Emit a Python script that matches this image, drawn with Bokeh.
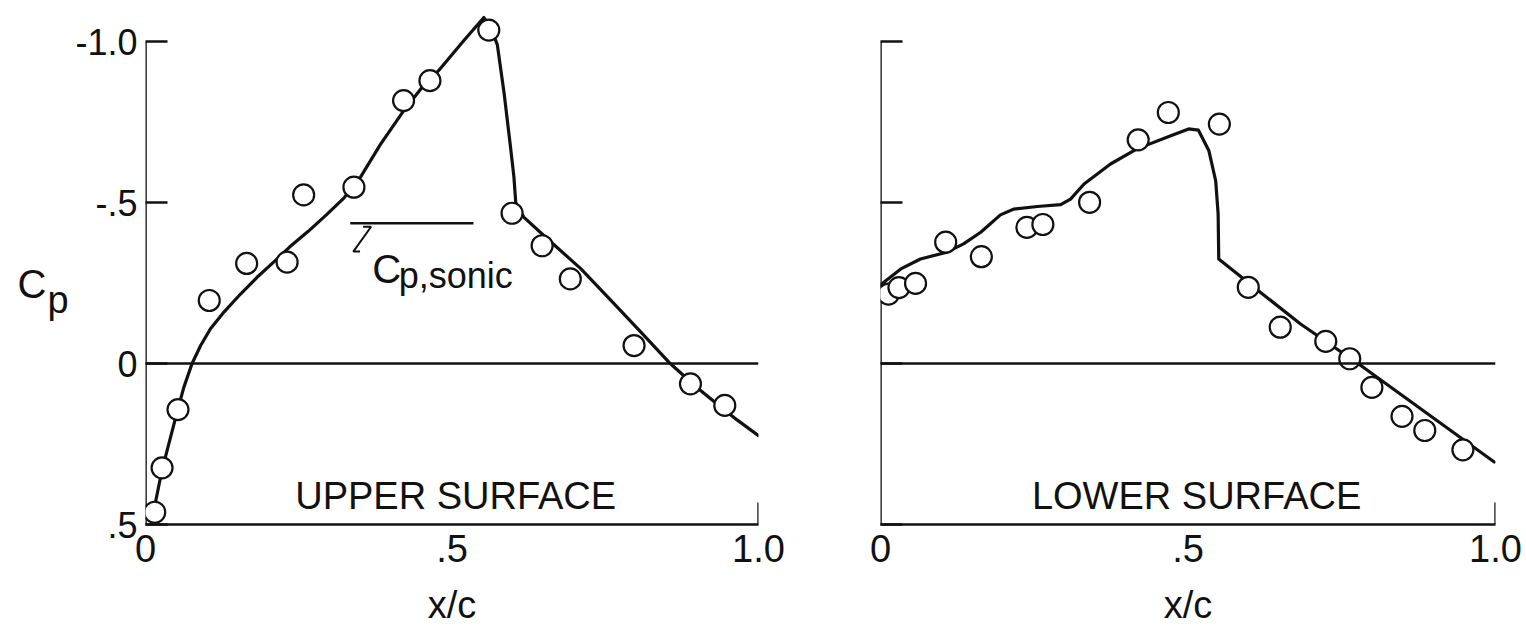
from bokeh.plotting import figure
from bokeh.layouts import row
from bokeh.models import Range1d, FixedTicker, Span
from bokeh.embed import file_html
from bokeh.resources import INLINE
from bokeh.core.properties import value

# ---------------- data ----------------
UPPER_CURVE_X = [0.010, 0.027, 0.053, 0.0625, 0.076, 0.090, 0.106, 0.128, 0.155, 0.182,
                 0.209, 0.235, 0.265, 0.295, 0.324, 0.351, 0.383, 0.421, 0.450, 0.478,
                 0.519, 0.552, 0.565, 0.574, 0.585, 0.595, 0.601, 0.604, 0.617, 0.660,
                 0.710, 0.760, 0.807, 0.856, 0.900, 0.932, 0.965, 1.000]
UPPER_CURVE_CP = [0.49, 0.33, 0.14, 0.074, 0.000, -0.056, -0.108, -0.160, -0.216, -0.268,
                  -0.315, -0.362, -0.410, -0.462, -0.515, -0.580, -0.680, -0.785, -0.855, -0.910,
                  -1.003, -1.075, -1.035, -0.990, -0.840, -0.680, -0.580, -0.500, -0.455, -0.380,
                  -0.295, -0.195, -0.100, 0.000, 0.075, 0.125, 0.175, 0.224]
UPPER_PTS_X = [0.015, 0.027, 0.053, 0.104, 0.165, 0.231, 0.258, 0.340, 0.421, 0.464,
               0.560, 0.598, 0.647, 0.693, 0.797, 0.889, 0.945]
UPPER_PTS_CP = [0.462, 0.324, 0.143, -0.196, -0.311, -0.315, -0.524, -0.548, -0.817, -0.879,
                -1.036, -0.467, -0.366, -0.263, -0.056, 0.063, 0.130]

LOWER_CURVE_X = [0.000, 0.005, 0.033, 0.065, 0.108, 0.135, 0.163, 0.195, 0.217, 0.255,
                 0.293, 0.309, 0.331, 0.374, 0.417, 0.472, 0.501, 0.517, 0.534, 0.545,
                 0.549, 0.550, 0.580, 0.618, 0.683, 0.781, 0.998]
LOWER_CURVE_CP = [-0.245, -0.252, -0.294, -0.325, -0.346, -0.372, -0.408, -0.462, -0.480, -0.488,
                  -0.494, -0.511, -0.558, -0.620, -0.667, -0.708, -0.729, -0.725, -0.661, -0.568,
                  -0.465, -0.325, -0.279, -0.221, -0.123, 0.006, 0.306]
LOWER_PTS_X = [0.013, 0.030, 0.057, 0.106, 0.164, 0.238, 0.264, 0.340, 0.419, 0.468,
               0.551, 0.598, 0.650, 0.724, 0.763, 0.799, 0.848, 0.885, 0.947]
LOWER_PTS_CP = [-0.216, -0.236, -0.249, -0.377, -0.332, -0.423, -0.432, -0.501, -0.695, -0.780,
                -0.744, -0.237, -0.113, -0.069, -0.015, 0.074, 0.164, 0.208, 0.268]

X_TICKS = [0.0, 0.5, 1.0]
X_TICK_LABELS = ["0", ".5", "1.0"]
Y_TICKS = [-1.0, -0.5, 0.0, 0.5]
Y_TICK_LABELS = ["-1.0", "-.5", "0", ".5"]

CP_SONIC = -0.436
SONIC_LINE_X = [0.334, 0.535]

FONT = "Liberation Sans"
INK = "#111111"

Y_RANGE = Range1d(Y_TICKS[-1], -1.10)
FRAME_H = 515
BORDER_TOP = 9
BORDER_BOTTOM = 104


def make_panel(curve_x, curve_cp, pts_x, pts_cp, label_text, label_x, frame_w,
               left_border, right_border, show_y_labels):
    p = figure(frame_width=frame_w, frame_height=FRAME_H,
               x_range=Range1d(X_TICKS[0], X_TICKS[-1]), y_range=Y_RANGE,
               output_backend="svg", toolbar_location=None,
               min_border_left=left_border, min_border_right=right_border,
               min_border_top=BORDER_TOP, min_border_bottom=BORDER_BOTTOM)
    p.grid.visible = False
    p.outline_line_color = None
    p.background_fill_color = "white"
    p.border_fill_color = "white"

    xa = p.xaxis[0]
    xa.ticker = FixedTicker(ticks=X_TICKS)
    xa.major_label_overrides = {t: l for t, l in zip(X_TICKS, X_TICK_LABELS)}
    xa.major_tick_in = 0
    xa.major_tick_out = 0
    xa.minor_tick_line_color = None
    xa.axis_line_width = 2.6
    xa.axis_line_color = INK
    xa.major_label_text_font = FONT
    xa.major_label_text_font_size = "38px"
    xa.major_label_text_color = INK
    xa.major_label_standoff = 10
    xa.axis_label = "x/c"
    xa.axis_label_text_font = FONT
    xa.axis_label_text_font_size = "38px"
    xa.axis_label_text_font_style = "normal"
    xa.axis_label_text_color = INK
    xa.axis_label_standoff = 19

    ya = p.yaxis[0]
    ya.ticker = FixedTicker(ticks=Y_TICKS)
    if show_y_labels:
        ya.major_label_overrides = {t: l for t, l in zip(Y_TICKS, Y_TICK_LABELS)}
    else:
        ya.major_label_overrides = {t: "" for t in Y_TICKS}
    ya.axis_line_color = None
    ya.major_tick_in = 22
    ya.major_tick_out = 0
    ya.major_tick_line_width = 2.4
    ya.major_tick_line_color = INK
    ya.minor_tick_line_color = None
    ya.major_label_text_font = FONT
    ya.major_label_text_font_size = "36px"
    ya.major_label_text_color = INK
    ya.major_label_standoff = 8

    # y axis line, from the lowest to the highest tick value
    p.segment(x0=[X_TICKS[0]], y0=[Y_TICKS[0]], x1=[X_TICKS[0]], y1=[Y_TICKS[-1]],
              line_width=2.6, line_color=INK)
    # inward tick at the end of the x axis
    p.segment(x0=[X_TICKS[-1]], y0=[Y_TICKS[-1]], x1=[X_TICKS[-1]], y1=[Y_TICKS[-1] - 0.068],
              line_width=2.4, line_color=INK)
    # zero line
    p.add_layout(Span(location=0, dimension="width", line_color=INK, line_width=2.6))

    p.line(curve_x, curve_cp, line_width=3.2, line_color=INK, line_join="round", line_cap="round")
    p.scatter(pts_x, pts_cp, marker="circle", size=21, fill_color="white",
              line_color=INK, line_width=2.2)

    p.text(x=[label_x], y=[0.41], text=[label_text], text_font=value(FONT),
           text_font_size=value("38px"), text_align="center", text_baseline="alphabetic",
           text_color=INK)
    return p


# strip on the far left that carries the C_p axis title
title_fig = figure(frame_width=72, frame_height=FRAME_H, x_range=Range1d(0, 72), y_range=Y_RANGE,
                   output_backend="svg", toolbar_location=None,
                   min_border_left=0, min_border_right=0,
                   min_border_top=BORDER_TOP, min_border_bottom=BORDER_BOTTOM)
title_fig.axis.visible = False
title_fig.grid.visible = False
title_fig.outline_line_color = None
title_fig.background_fill_color = "white"
title_fig.border_fill_color = "white"
title_fig.text(x=[17], y=[-0.248], text=["C"], text_font=value(FONT),
               text_font_size=value("40px"), text_align="left", text_baseline="alphabetic",
               text_color=INK)
title_fig.text(x=[47], y=[-0.196], text=["p"], text_font=value(FONT),
               text_font_size=value("38px"), text_align="left", text_baseline="alphabetic",
               text_color=INK)

p1 = make_panel(UPPER_CURVE_X, UPPER_CURVE_CP, UPPER_PTS_X, UPPER_PTS_CP,
                "UPPER SURFACE", 0.506, 613, 73, 40, True)
p2 = make_panel(LOWER_CURVE_X, LOWER_CURVE_CP, LOWER_PTS_X, LOWER_PTS_CP,
                "LOWER SURFACE", 0.514, 615, 82, 30, False)

# sonic pressure coefficient marker
p1.segment(x0=[SONIC_LINE_X[0]], y0=[CP_SONIC], x1=[SONIC_LINE_X[1]], y1=[CP_SONIC],
           line_width=2.4, line_color=INK)
zx = SONIC_LINE_X[0]
p1.line([zx + 0.021, zx + 0.034, zx + 0.005, zx + 0.016],
        [CP_SONIC + 0.011, CP_SONIC + 0.011, CP_SONIC + 0.088, CP_SONIC + 0.088],
        line_width=2.0, line_color=INK)
p1.text(x=[zx + 0.036], y=[CP_SONIC + 0.141], text=["C"], text_font=value(FONT),
        text_font_size=value("40px"), text_align="left", text_baseline="alphabetic",
        text_color=INK)
p1.text(x=[zx + 0.079], y=[CP_SONIC + 0.163], text=["p,sonic"], text_font=value(FONT),
        text_font_size=value("36px"), text_align="left", text_baseline="alphabetic",
        text_color=INK)

layout = row(title_fig, p1, p2)
open("out.html", "w").write(file_html(layout, INLINE))
